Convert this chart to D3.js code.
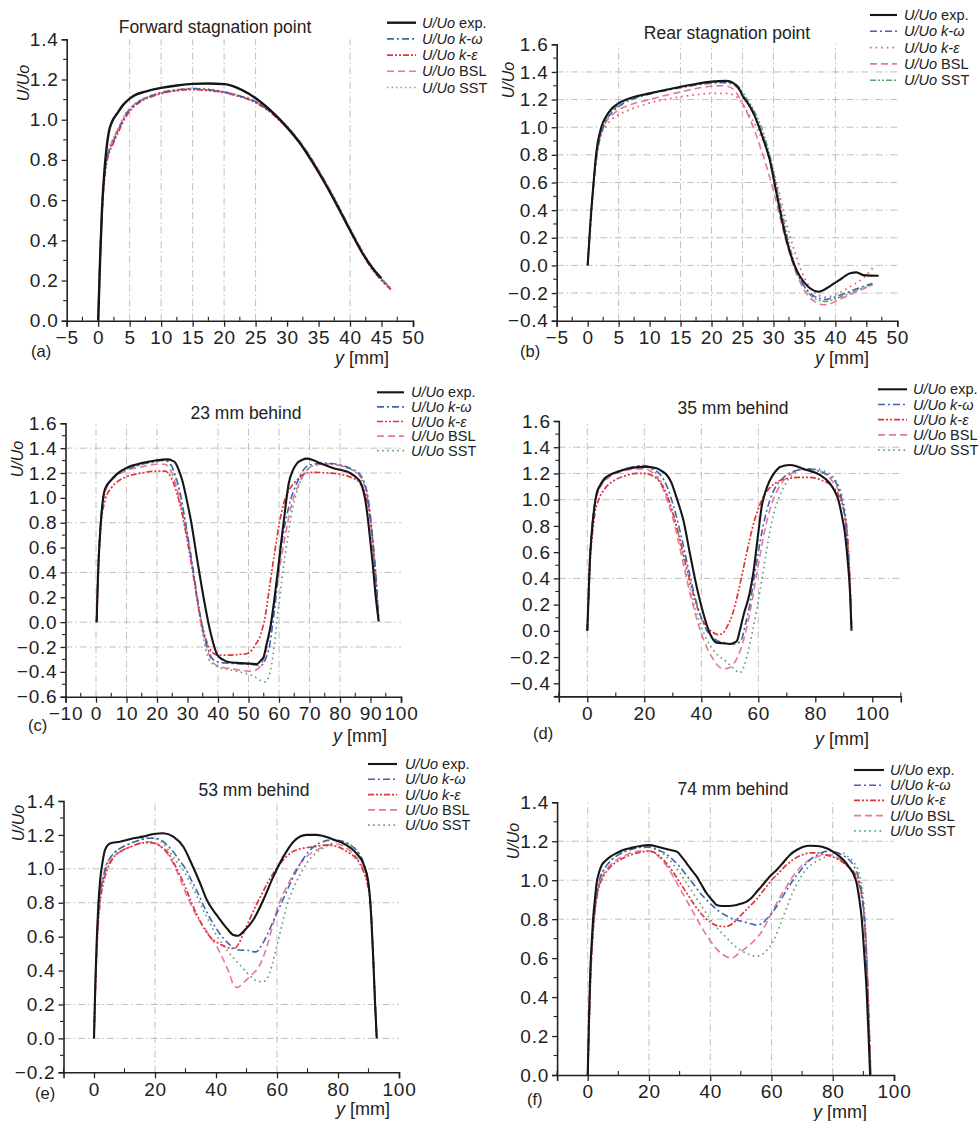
<!DOCTYPE html>
<html><head><meta charset="utf-8">
<script src="https://cdn.jsdelivr.net/npm/d3@7"></script>
<style>
body{margin:0;background:#fff}
svg{display:block}
text{font-family:"Liberation Sans",Arial,Helvetica,sans-serif;fill:#222}
</style>
</head><body>
<svg id="chart" width="979" height="1121"></svg>
<script>
// ---------------- DATA ----------------
const seriesLabels = ["exp.", "k-ω", "k-ε", "BSL", "SST"];

// (a) Forward stagnation point
const aExp = [[0,0],[0.3,0.3],[0.6,0.55],[1,0.75],[1.3,0.85],[1.7,0.94],[2.2,0.99],[3,1.03],[4,1.075],[5,1.105],[6,1.125],[7.5,1.14],[10,1.158],[12.5,1.17],[15,1.178],[17.5,1.18],[20,1.177],[22,1.16],[24,1.128],[26,1.083],[28,1.028],[30,0.962],[32,0.885],[34,0.79],[36,0.685],[38,0.57],[40,0.45],[42,0.335],[43.5,0.265],[45,0.21]];
const aKw = [[0,0],[0.4,0.4],[0.8,0.65],[1.2,0.77],[1.7,0.84],[2.5,0.9],[3.5,0.97],[4.5,1.03],[5.5,1.065],[7,1.1],[8.5,1.12],[10,1.135],[12.5,1.148],[15,1.155],[17.5,1.15],[20,1.138],[22.5,1.118],[25,1.09],[27,1.048],[29,0.995],[31,0.928],[33,0.845],[35,0.745],[37,0.635],[39,0.515],[41,0.395],[43,0.285],[45,0.205],[46.5,0.16]];
const aKe = [[0,0],[0.4,0.38],[0.8,0.63],[1.2,0.76],[1.7,0.83],[2.5,0.89],[3.5,0.96],[4.5,1.02],[5.5,1.06],[7,1.095],[8.5,1.115],[10,1.13],[12.5,1.145],[15,1.15],[17.5,1.145],[20,1.135],[22.5,1.115],[25,1.085],[27,1.045],[29,0.99],[31,0.925],[33,0.84],[35,0.74],[37,0.63],[39,0.51],[41,0.39],[43,0.28],[45,0.2],[46.5,0.155]];
const aBsl = [[0,0],[0.4,0.4],[0.8,0.66],[1.2,0.78],[1.7,0.85],[2.5,0.91],[3.5,0.975],[4.5,1.035],[5.5,1.07],[7,1.1],[8.5,1.118],[10,1.132],[12.5,1.146],[15,1.152],[17.5,1.147],[20,1.136],[22.5,1.116],[25,1.088],[27,1.05],[29,0.998],[31,0.93],[33,0.85],[35,0.75],[37,0.64],[39,0.52],[41,0.4],[43,0.29],[45,0.21],[46.5,0.16]];
const aSst = [[0,0],[0.4,0.41],[0.8,0.66],[1.2,0.78],[1.7,0.85],[2.5,0.915],[3.5,0.98],[4.5,1.04],[5.5,1.07],[7,1.105],[8.5,1.122],[10,1.136],[12.5,1.15],[15,1.156],[17.5,1.152],[20,1.14],[22.5,1.12],[25,1.092],[27,1.052],[29,1.0],[31,0.932],[33,0.85],[35,0.752],[37,0.642],[39,0.522],[41,0.402],[43,0.292],[45,0.21],[46.5,0.162]];

// (b) Rear stagnation point
const bExp = [[0,0],[0.5,0.35],[0.9,0.57],[1.4,0.82],[2.2,1.0],[3,1.08],[3.8,1.13],[5,1.175],[6.5,1.205],[8,1.225],[10,1.245],[12.5,1.27],[15,1.293],[17.5,1.313],[20,1.33],[22.4,1.335],[23.5,1.32],[24.3,1.29],[25.1,1.22],[26,1.165],[26.8,1.1],[27.6,1.01],[28.4,0.91],[29.4,0.765],[30.5,0.52],[31.6,0.28],[32.7,0.09],[33.5,-0.01],[34.3,-0.08],[35.1,-0.13],[35.9,-0.165],[37.3,-0.19],[38.6,-0.165],[39.6,-0.135],[40.7,-0.105],[41.6,-0.075],[42.4,-0.057],[43.4,-0.05],[44.5,-0.07],[45.6,-0.074],[47,-0.075]];
const bKw = [[0,0],[0.5,0.33],[1,0.6],[1.5,0.8],[2.3,0.97],[3,1.05],[4,1.11],[5,1.15],[6.5,1.19],[8,1.215],[10,1.24],[12.5,1.265],[15,1.285],[17.5,1.305],[20,1.318],[22,1.322],[23.5,1.31],[24.5,1.27],[25.5,1.2],[26.5,1.12],[27.5,1.02],[28.5,0.9],[29.5,0.74],[30.5,0.53],[31.5,0.32],[32.5,0.13],[33.5,-0.02],[34.5,-0.12],[35.5,-0.18],[36.5,-0.22],[37.5,-0.24],[38.5,-0.245],[39.5,-0.235],[41,-0.21],[42.5,-0.185],[44,-0.16],[45,-0.145],[46,-0.13]];
const bKe = [[0,0],[0.5,0.3],[1,0.6],[1.5,0.8],[2,0.92],[3,1.01],[4,1.06],[5,1.09],[7,1.13],[10,1.175],[12.5,1.2],[15,1.22],[17.5,1.235],[20,1.245],[22.5,1.245],[23.5,1.235],[24.5,1.2],[25.5,1.13],[26.5,1.06],[27.5,0.98],[28.5,0.88],[29.5,0.76],[30.5,0.6],[31.5,0.42],[32.5,0.24],[33.5,0.09],[34.5,-0.04],[35.5,-0.13],[36.5,-0.19],[37.5,-0.22],[38.5,-0.23],[39.5,-0.22],[41,-0.19],[42.5,-0.15],[44,-0.11],[45,-0.07],[46,-0.02]];
const bBsl = [[0,0],[0.5,0.33],[1,0.62],[1.5,0.82],[2.2,0.96],[3,1.04],[4,1.09],[5,1.125],[7,1.165],[10,1.2],[12.5,1.23],[15,1.255],[17.5,1.28],[20,1.297],[22,1.3],[23,1.29],[24,1.25],[25,1.17],[26,1.08],[27,0.97],[28,0.84],[29,0.7],[30,0.54],[31,0.36],[32,0.18],[33,0.03],[34,-0.09],[35,-0.18],[36,-0.24],[37,-0.27],[38,-0.285],[39,-0.28],[40,-0.26],[41.5,-0.23],[43,-0.2],[44.5,-0.17],[46,-0.14]];
const bSst = [[0,0],[0.5,0.34],[1,0.62],[1.5,0.82],[2.3,0.98],[3,1.06],[4,1.12],[5,1.16],[6.5,1.2],[8,1.22],[10,1.245],[12.5,1.27],[15,1.29],[17.5,1.31],[20,1.325],[22,1.33],[23.5,1.32],[24.5,1.285],[25.5,1.22],[26.5,1.15],[27.5,1.06],[28.5,0.94],[29.5,0.78],[30.5,0.57],[31.5,0.36],[32.5,0.16],[33.5,0.0],[34.5,-0.11],[35.5,-0.19],[36.5,-0.235],[37.5,-0.255],[38.5,-0.26],[39.5,-0.25],[41,-0.225],[42.5,-0.2],[44,-0.17],[45,-0.155],[46,-0.14]];

// (c) 23 mm behind
const cExp = [[0.2,0],[0.7,0.4],[1.5,0.77],[2.6,1.04],[3.5,1.1],[4.8,1.14],[7,1.195],[10.3,1.245],[15,1.28],[20,1.303],[23.4,1.31],[25,1.3],[26.1,1.28],[27.2,1.22],[28.3,1.14],[29.7,0.99],[31.1,0.82],[33.2,0.5],[35.4,0.18],[37.6,-0.09],[39.8,-0.265],[41.5,-0.3],[43,-0.318],[47.4,-0.33],[52.8,-0.337],[54,-0.31],[55,-0.278],[56,-0.17],[57.2,-0.036],[58.3,0.15],[59.4,0.366],[60.5,0.6],[61.6,0.82],[63.2,1.117],[64.5,1.22],[65.9,1.278],[67.5,1.305],[69.2,1.316],[71.5,1.3],[73.6,1.278],[77.9,1.238],[83.4,1.198],[85.5,1.16],[86.6,1.13],[87.5,1.07],[88.3,0.983],[89.1,0.84],[89.9,0.661],[90.8,0.45],[91.6,0.232],[92.7,0.004]];
const cKw = [[0.2,0],[0.8,0.5],[1.7,0.85],[3,1.06],[5,1.14],[7,1.19],[10,1.23],[15,1.27],[20,1.295],[22.5,1.305],[24.5,1.27],[26,1.18],[27.5,1.05],[29,0.85],[30.5,0.63],[32,0.4],[33.5,0.15],[35,-0.05],[36.5,-0.2],[38,-0.29],[40,-0.32],[43,-0.33],[47,-0.335],[51,-0.34],[54,-0.35],[55.5,-0.3],[57,-0.18],[58,0.0],[59,0.2],[60,0.45],[61,0.65],[62.5,0.85],[64,1.0],[65.5,1.1],[67,1.18],[68.5,1.24],[71,1.27],[75,1.28],[80,1.265],[84,1.23],[86.5,1.19],[88,1.12],[89,1.03],[90,0.85],[91,0.6],[92,0.3],[92.7,0.03]];
const cKe = [[0.2,0],[0.8,0.45],[1.7,0.8],[3,0.98],[5,1.08],[7,1.13],[10,1.17],[15,1.2],[20,1.215],[22.5,1.215],[24.5,1.17],[26,1.08],[27.5,0.95],[29,0.78],[30.5,0.58],[32,0.36],[33.5,0.13],[35,-0.05],[36.5,-0.17],[38,-0.24],[40,-0.265],[43,-0.265],[47,-0.26],[50,-0.25],[52,-0.19],[54,-0.1],[55.5,0.05],[57,0.3],[58.5,0.55],[60,0.78],[61.5,0.95],[63,1.05],[65,1.12],[67,1.17],[69,1.2],[72,1.205],[76,1.2],[80,1.19],[84,1.16],[86.5,1.12],[88,1.05],[89.5,0.9],[90.5,0.7],[91.5,0.4],[92.5,0.05]];
const cBsl = [[0.2,0],[0.8,0.5],[1.7,0.85],[3,1.05],[5,1.14],[7,1.18],[10,1.22],[15,1.25],[20,1.27],[22.5,1.27],[24.5,1.22],[26,1.12],[27.5,0.98],[29,0.8],[30.5,0.6],[32,0.38],[33.5,0.14],[35,-0.07],[36.5,-0.22],[38,-0.31],[40,-0.355],[43,-0.37],[47,-0.385],[50,-0.395],[52,-0.39],[54,-0.35],[55.5,-0.25],[57,-0.08],[58.5,0.15],[60,0.4],[61.5,0.62],[63,0.82],[64.5,0.98],[66,1.08],[67.5,1.16],[69,1.22],[72,1.265],[76,1.275],[80,1.26],[84,1.225],[86.5,1.18],[88,1.1],[89,1.0],[90,0.82],[91,0.58],[92,0.28],[92.7,0.02]];
const cSst = [[0.2,0],[0.8,0.5],[1.7,0.85],[3,1.05],[5,1.14],[7,1.19],[10,1.23],[15,1.27],[20,1.29],[22.5,1.3],[24.5,1.26],[26,1.17],[27.5,1.03],[29,0.84],[30.5,0.62],[32,0.38],[33.5,0.12],[35,-0.1],[36,-0.22],[37,-0.3],[38,-0.33],[40,-0.36],[43,-0.38],[47,-0.4],[50,-0.42],[52,-0.44],[54,-0.47],[55.5,-0.48],[56.5,-0.45],[57.5,-0.35],[58.5,-0.18],[59.5,0.05],[60.5,0.25],[61.5,0.45],[62.5,0.62],[63.5,0.78],[64.5,0.92],[65.5,1.02],[66.5,1.1],[68,1.18],[70,1.24],[73,1.27],[77,1.27],[81,1.25],[85,1.21],[87,1.15],[88.5,1.05],[89.5,0.92],[90.5,0.7],[91.5,0.42],[92.5,0.05]];

// (d) 35 mm behind
const dExp = [[0,0],[0.5,0.3],[0.9,0.54],[1.5,0.73],[2.1,0.87],[3.3,1.05],[4.5,1.11],[5.6,1.15],[8,1.19],[10.3,1.21],[15,1.24],[20.2,1.25],[24.3,1.24],[26,1.22],[27.8,1.19],[29.5,1.13],[30.8,1.05],[32.3,0.95],[33.7,0.845],[36,0.59],[38.4,0.335],[40.7,0.134],[43,-0.02],[45.4,-0.09],[47.7,-0.095],[50,-0.1],[52.4,-0.08],[53.5,0.0],[54.7,0.11],[57,0.29],[58.3,0.45],[59.4,0.64],[60.3,0.8],[61.2,0.95],[62.5,1.06],[64.1,1.15],[66,1.215],[67.6,1.25],[71.1,1.265],[74,1.25],[77,1.226],[81.6,1.19],[85.1,1.125],[86.7,1.07],[88.1,0.998],[89.3,0.88],[90.4,0.744],[91.3,0.55],[92.2,0.286],[92.7,0.0]];
const dKw = [[0,0],[0.5,0.3],[1,0.58],[1.7,0.8],[2.7,0.98],[4,1.08],[6,1.15],[9,1.2],[13,1.23],[17,1.255],[20,1.26],[23,1.235],[26,1.18],[28,1.1],[30,0.97],[32,0.81],[34,0.62],[36,0.42],[38,0.24],[40,0.1],[42,0.0],[44,-0.05],[46,-0.08],[48,-0.09],[50,-0.1],[52,-0.1],[54,-0.07],[55.5,0.05],[57,0.2],[58.5,0.4],[60,0.6],[61.5,0.78],[63,0.92],[65,1.05],[67.5,1.14],[70,1.19],[73,1.22],[77,1.235],[81,1.22],[85,1.18],[87.5,1.12],[89,1.03],[90.3,0.88],[91.3,0.65],[92.2,0.3],[92.7,0.02]];
const dKe = [[0,0],[0.5,0.28],[1,0.52],[1.7,0.72],[2.7,0.9],[4,1.0],[6,1.08],[9,1.14],[13,1.18],[17,1.2],[20,1.2],[23,1.18],[26,1.12],[28,1.03],[30,0.9],[32,0.74],[34,0.56],[36,0.38],[38,0.22],[40,0.1],[42,0.03],[44,-0.01],[46,-0.03],[47.5,-0.02],[49,0.03],[51,0.13],[53,0.3],[55,0.5],[57,0.7],[58.5,0.83],[60,0.93],[62,1.03],[64,1.09],[67,1.14],[70,1.16],[74,1.17],[78,1.17],[82,1.15],[86,1.1],[88.5,1.02],[90,0.92],[91.2,0.75],[92,0.45],[92.7,0.03]];
const dBsl = [[0,0],[0.5,0.3],[1,0.57],[1.7,0.79],[2.7,0.97],[4,1.07],[6,1.14],[9,1.19],[13,1.22],[17,1.235],[20,1.235],[22,1.22],[24,1.18],[26,1.11],[28,1.0],[30,0.86],[32,0.68],[34,0.48],[36,0.29],[38,0.12],[40,-0.02],[42,-0.13],[44,-0.21],[46,-0.27],[48,-0.29],[50,-0.28],[52,-0.23],[54,-0.13],[56,0.03],[58,0.25],[60,0.5],[62,0.74],[64,0.92],[66,1.04],[68,1.12],[71,1.19],[75,1.23],[79,1.23],[83,1.2],[86,1.14],[88.5,1.05],[90,0.92],[91.2,0.72],[92.1,0.4],[92.7,0.02]];
const dSst = [[0,0],[0.5,0.3],[1,0.57],[1.7,0.79],[2.7,0.97],[4,1.08],[6,1.15],[9,1.2],[13,1.235],[17,1.255],[20,1.255],[22,1.24],[24,1.2],[26,1.13],[28,1.03],[30,0.9],[32,0.73],[34,0.53],[36,0.33],[38,0.16],[40,0.03],[42,-0.07],[44,-0.14],[46,-0.19],[48,-0.22],[50,-0.26],[52,-0.3],[53.5,-0.32],[55,-0.27],[56.5,-0.15],[58,0.0],[59.5,0.17],[61,0.36],[62.5,0.56],[64,0.75],[65.5,0.9],[67,1.0],[69,1.1],[72,1.19],[76,1.235],[80,1.235],[84,1.21],[87,1.15],[89,1.06],[90.5,0.9],[91.5,0.65],[92.3,0.3],[92.8,0.02]];

// (e) 53 mm behind
const eExp = [[0,0],[0.4,0.3],[0.9,0.58],[1.4,0.78],[2,0.93],[2.8,1.04],[3.6,1.11],[5.2,1.15],[8.5,1.16],[12.9,1.18],[16,1.19],[19.5,1.205],[22.7,1.21],[26,1.19],[29.3,1.13],[32,1.03],[34.8,0.915],[37,0.816],[40.2,0.728],[43.5,0.65],[45.7,0.61],[47.3,0.605],[49,0.63],[52.2,0.698],[55.5,0.816],[58.8,0.954],[62.1,1.072],[65.4,1.16],[69.7,1.2],[73,1.2],[77.4,1.18],[81.7,1.15],[86.1,1.09],[88.3,1.03],[90,0.914],[91,0.68],[91.6,0.45],[92.1,0.226],[92.7,0]];
const eKw = [[0,0],[0.5,0.35],[1,0.6],[2,0.85],[3,0.95],[4,1.02],[5.5,1.07],[7,1.1],[9.5,1.13],[12,1.15],[15,1.17],[18,1.18],[20,1.18],[22,1.17],[24,1.14],[26,1.1],[28,1.05],[30,1.0],[32,0.93],[34,0.86],[36,0.78],[38,0.71],[40,0.65],[42,0.6],[44,0.56],[46,0.53],[48,0.52],[50,0.52],[53,0.51],[55,0.55],[57,0.62],[59,0.7],[61,0.78],[63,0.86],[65,0.94],[67,1.01],[69,1.07],[72,1.13],[75,1.16],[78,1.17],[81,1.165],[84,1.14],[86.5,1.1],[88.5,1.03],[89.8,0.93],[90.8,0.75],[91.6,0.45],[92.2,0.2],[92.7,0]];
const eKe = [[0,0],[0.5,0.3],[1,0.55],[2,0.8],[3,0.91],[4,0.98],[5.5,1.04],[7,1.08],[9.5,1.11],[12,1.13],[15,1.15],[18,1.155],[20,1.15],[22,1.13],[24,1.1],[26,1.04],[28,0.97],[30,0.89],[32,0.8],[34,0.72],[36,0.65],[38,0.6],[40,0.57],[42,0.55],[44,0.535],[46,0.53],[47.5,0.56],[49,0.62],[51,0.7],[53,0.78],[55,0.85],[57,0.92],[59,0.98],[61,1.03],[63,1.07],[65,1.1],[68,1.12],[72,1.13],[76,1.14],[80,1.13],[83,1.1],[86,1.06],[88,1.0],[89.5,0.92],[90.7,0.78],[91.5,0.5],[92.2,0.2],[92.7,0]];
const eBsl = [[0,0],[0.5,0.33],[1,0.58],[2,0.83],[3,0.94],[4,1.0],[5.5,1.05],[7,1.08],[9.5,1.11],[12,1.13],[15,1.15],[18,1.16],[20,1.155],[22,1.13],[24,1.09],[26,1.03],[28,0.95],[30,0.86],[32,0.78],[34,0.71],[36,0.66],[38,0.6],[40,0.55],[42,0.48],[44,0.4],[46,0.31],[47,0.3],[48.5,0.32],[50,0.345],[52,0.38],[54,0.42],[55.5,0.48],[57,0.56],[58.5,0.66],[60,0.76],[62,0.85],[64.3,0.93],[66,0.99],[68,1.04],[71,1.09],[74,1.12],[77,1.14],[80,1.145],[83,1.12],[86,1.07],[88,1.01],[89.5,0.93],[90.7,0.78],[91.5,0.5],[92.2,0.2],[92.7,0]];
const eSst = [[0,0],[0.5,0.34],[1,0.59],[2,0.84],[3,0.95],[4,1.02],[5.5,1.07],[7,1.1],[9.5,1.13],[12,1.15],[15,1.17],[18,1.185],[20,1.18],[22,1.16],[24,1.12],[26,1.07],[28,1.02],[30,0.97],[32,0.9],[34,0.83],[36,0.75],[38,0.68],[40,0.61],[42,0.56],[44,0.51],[46,0.47],[48,0.43],[50,0.39],[52,0.355],[54,0.335],[55.5,0.335],[57,0.36],[58.5,0.44],[60,0.55],[61.5,0.66],[63.2,0.78],[65,0.87],[66.5,0.93],[68,0.98],[70,1.04],[72,1.08],[74,1.11],[77,1.14],[80,1.16],[83,1.15],[86,1.11],[88,1.04],[89.5,0.95],[90.7,0.8],[91.5,0.52],[92.2,0.2],[92.7,0]];

// (f) 74 mm behind
const fExp = [[0,0],[0.4,0.28],[0.8,0.52],[1.3,0.68],[1.8,0.81],[2.4,0.91],[2.9,0.984],[3.7,1.04],[4.6,1.078],[5.8,1.1],[7.3,1.12],[9.5,1.14],[11.6,1.155],[14,1.165],[17.1,1.176],[20.3,1.18],[22.5,1.173],[24.7,1.164],[27,1.155],[29.1,1.147],[30.7,1.12],[32.3,1.087],[34,1.05],[35.6,1.018],[37.2,0.975],[38.8,0.933],[40.5,0.9],[42.1,0.873],[43.8,0.868],[45.4,0.868],[47,0.869],[48.6,0.873],[50.2,0.88],[51.9,0.89],[53.5,0.91],[55.2,0.941],[56.8,0.97],[58.4,1.0],[60,1.028],[61.7,1.053],[63.8,1.09],[66,1.13],[68.2,1.155],[70.4,1.172],[72.6,1.177],[74.8,1.176],[76.5,1.172],[78,1.164],[80.2,1.145],[82.4,1.12],[84,1.095],[85.6,1.061],[86.8,1.03],[87.8,0.984],[88.7,0.9],[89.4,0.813],[90.3,0.62],[91.1,0.42],[91.7,0.2],[92.2,0]];
const fKw = [[0,0],[0.5,0.3],[1,0.55],[1.6,0.72],[2.3,0.85],[3.2,0.95],[4.2,1.02],[5.5,1.06],[7.5,1.1],[10,1.13],[12.5,1.15],[15,1.162],[17.5,1.17],[20,1.17],[22.5,1.16],[25,1.14],[27.5,1.11],[30,1.07],[32.5,1.02],[35,0.97],[37.5,0.92],[40,0.88],[42.5,0.845],[45,0.82],[47.5,0.8],[50,0.79],[52.5,0.78],[55,0.77],[57,0.78],[59,0.81],[61,0.85],[63,0.9],[65,0.95],[67,1.0],[69,1.04],[71,1.08],[73,1.11],[75,1.13],[77,1.145],[79,1.15],[81,1.145],[83,1.13],[85,1.11],[87,1.07],[88.5,1.01],[89.5,0.93],[90.4,0.78],[91.2,0.52],[91.8,0.25],[92.3,0]];
const fKe = [[0,0],[0.5,0.28],[1,0.52],[1.6,0.7],[2.3,0.83],[3.2,0.93],[4.2,0.99],[5.5,1.03],[7.5,1.07],[10,1.1],[12.5,1.12],[15,1.135],[17.5,1.145],[20,1.15],[22.5,1.135],[25,1.1],[27.5,1.05],[30,0.99],[32.5,0.93],[35,0.87],[37.5,0.82],[40,0.785],[42.5,0.765],[45,0.762],[47.5,0.78],[50,0.82],[52.5,0.86],[55,0.9],[57.5,0.95],[60,1.0],[62.5,1.04],[65,1.08],[67.5,1.11],[70,1.13],[72.5,1.14],[75,1.14],[77.5,1.13],[80,1.12],[82.5,1.1],[85,1.07],[87,1.04],[88.5,0.99],[89.5,0.92],[90.4,0.8],[91.2,0.55],[91.8,0.28],[92.4,0]];
const fBsl = [[0,0],[0.5,0.3],[1,0.54],[1.6,0.71],[2.3,0.84],[3.2,0.94],[4.2,1.0],[5.5,1.04],[7.5,1.08],[10,1.11],[12.5,1.13],[15,1.145],[17.5,1.15],[20,1.15],[22.5,1.13],[25,1.09],[27.5,1.03],[30,0.96],[32.5,0.89],[35,0.82],[37.5,0.75],[40,0.69],[42.5,0.64],[45,0.61],[47,0.6],[49,0.62],[51,0.645],[53,0.67],[55,0.7],[57,0.74],[59,0.8],[61,0.86],[63,0.92],[65,0.97],[67,1.02],[69,1.06],[71,1.09],[73,1.11],[75,1.12],[77,1.13],[79,1.13],[81,1.12],[83,1.1],[85,1.07],[87,1.03],[88.5,0.98],[89.5,0.91],[90.4,0.78],[91.2,0.55],[91.8,0.3],[92.4,0]];
const fSst = [[0,0],[0.5,0.3],[1,0.55],[1.6,0.72],[2.3,0.85],[3.2,0.95],[4.2,1.02],[5.5,1.06],[7.5,1.1],[10,1.13],[12.5,1.15],[15,1.162],[17.5,1.168],[20,1.168],[22.5,1.155],[25,1.13],[27.5,1.09],[30,1.04],[32.5,0.98],[35,0.92],[37.5,0.86],[40,0.8],[42.5,0.75],[45,0.71],[47.5,0.67],[50,0.64],[52.5,0.62],[55,0.61],[57,0.62],[59,0.65],[61,0.7],[63,0.78],[65,0.86],[67,0.94],[69,1.0],[71,1.05],[73,1.08],[75,1.1],[77,1.115],[79,1.13],[81,1.14],[83,1.14],[85,1.12],[87,1.09],[88.5,1.04],[89.5,0.97],[90.4,0.83],[91.2,0.58],[91.8,0.3],[92.4,0]];

// tick labels
const xTicksAB = [-5,0,5,10,15,20,25,30,35,40,45,50];
const xTicksC = [-10,0,10,20,30,40,50,60,70,80,90,100];
const xTicksDEF = [0,20,40,60,80,100];
const yTicksA = [0,0.2,0.4,0.6,0.8,1.0,1.2,1.4];
const yTicksB = [-0.4,-0.2,0,0.2,0.4,0.6,0.8,1.0,1.2,1.4,1.6];
const yTicksC = [-0.6,-0.4,-0.2,0,0.2,0.4,0.6,0.8,1.0,1.2,1.4,1.6];
const yTicksD = [-0.4,-0.2,0,0.2,0.4,0.6,0.8,1.0,1.2,1.4,1.6];
const yTicksE = [-0.2,0,0.2,0.4,0.6,0.8,1.0,1.2,1.4];
const yTicksF = [0,0.2,0.4,0.6,0.8,1.0,1.2,1.4];

// ---------------- STYLES ----------------
const C_EXP = "#161616", C_KW = "#3f65b0", C_KE = "#e2343c", C_BSL = "#e8789a", C_SST_G = "#5fa272", C_SST_A = "#9a9a9a";
const stylesA = [
  {c:C_EXP, w:2.4, d:null},
  {c:C_KW, w:1.6, d:"7,3,2,3"},
  {c:C_KE, w:1.8, d:"6,2,2,2,2,2"},
  {c:C_BSL, w:1.6, d:"7,4"},
  {c:C_SST_A, w:1.6, d:"1.5,3"}
];
const stylesB = [
  {c:C_EXP, w:2.1, d:null},
  {c:C_KW, w:1.6, d:"7,3,2,3"},
  {c:"#ec5a78", w:1.8, d:"1.6,4"},
  {c:C_BSL, w:1.6, d:"7,4"},
  {c:C_SST_G, w:1.6, d:"6,2,2,2,2,2"}
];
const stylesC = [
  {c:C_EXP, w:2.1, d:null},
  {c:C_KW, w:1.6, d:"7,3,2,3"},
  {c:C_KE, w:1.7, d:"6,2,2,2,2,2"},
  {c:C_BSL, w:1.6, d:"7,4"},
  {c:C_SST_G, w:1.7, d:"1.6,3.5"}
];

// ---------------- LAYOUT ----------------
const panels = [
  {letter:"(a)", title:"Forward stagnation point", series:[aExp,aKw,aKe,aBsl,aSst], styles:stylesA,
   xd:[-5,50], yd:[0,1.4], px:[66.7,413], py:[320.7,39.3],
   xt:xTicksAB, yt:yTicksA, xMinorStep:2.5, yMinorStep:0.1,
   vgrid:[5,10,15,20,25,40], hgrid:[],
   titlePos:[215,33], legend:{x0:387,x1:416,tx:422,y:22.7,dy:16.2},
   yLabel:[23,83], xLabel:[335,364], letterPos:[31,357]},
  {letter:"(b)", title:"Rear stagnation point", series:[bExp,bKw,bKe,bBsl,bSst], styles:stylesB,
   xd:[-5,50], yd:[-0.4,1.6], px:[556.7,897.3], py:[320.7,44.3],
   xt:xTicksAB, yt:yTicksB, xMinorStep:2.5, yMinorStep:0.1,
   vgrid:[5,15,20,25,30,40], hgrid:[1.4,1.2,1.0,0.8,0.6,0.4,0.2,0,-0.2],
   titlePos:[727,39], legend:{x0:870,x1:897,tx:904,y:15,dy:16.3},
   yLabel:[508,80], xLabel:[815,364], letterPos:[520,357]},
  {letter:"(c)", title:"23 mm behind", series:[cExp,cKw,cKe,cBsl,cSst], styles:stylesC,
   xd:[-10,100], yd:[-0.6,1.6], px:[65.5,401], py:[696.7,423.3],
   xt:xTicksC, yt:yTicksC, xMinorStep:5, yMinorStep:0.1,
   vgrid:[0,10,20,40,50,60,70,80], hgrid:[1.4,1.2,0.8,0.4,0,-0.2],
   titlePos:[246,419], legend:{x0:377,x1:404,tx:411,y:392.3,dy:14.6},
   yLabel:[17,459], xLabel:[333,742], letterPos:[28,731]},
  {letter:"(d)", title:"35 mm behind", series:[dExp,dKw,dKe,dBsl,dSst], styles:stylesC,
   xd:[-10,110], yd:[-0.5,1.6], px:[558.8,900.8], py:[696.4,421],
   xt:xTicksDEF, yt:yTicksD, xMinorStep:10, yMinorStep:0.1,
   vgrid:[0,20,40,60], hgrid:[1.4,1.2,1.0,0.4],
   titlePos:[733,414], legend:{x0:878,x1:907,tx:913,y:389.3,dy:15.2},
   yLabel:null, xLabel:[815,745], letterPos:[533,739]},
  {letter:"(e)", title:"53 mm behind", series:[eExp,eKw,eKe,eBsl,eSst], styles:stylesC,
   xd:[-10,100], yd:[-0.2,1.4], px:[63.5,399], py:[1072.3,801],
   xt:xTicksDEF, yt:yTicksE, xMinorStep:10, yMinorStep:0.1,
   vgrid:[20,60], hgrid:[1.0,0.8,0.2,0],
   titlePos:[254,796], legend:{x0:368,x1:397,tx:405,y:764,dy:15.3},
   yLabel:[18,823], xLabel:[336,1115], letterPos:[35,1099]},
  {letter:"(f)", title:"74 mm behind", series:[fExp,fKw,fKe,fBsl,fSst], styles:stylesC,
   xd:[-10,100], yd:[0,1.4], px:[557.1,894], py:[1075,802.3],
   xt:xTicksDEF, yt:yTicksF, xMinorStep:10, yMinorStep:0.1,
   vgrid:[0,20,40,60,80], hgrid:[1.2,1.0,0.8],
   titlePos:[733,795], legend:{x0:854,x1:884,tx:890,y:770,dy:15.2},
   yLabel:[513,841], xLabel:[813,1118], letterPos:[527,1105]}
];

// ---------------- DRAW ----------------
const svg = d3.select("#chart");
const fmt = v => {
  const s = d3.format(".1f")(Math.abs(v));
  return (v < -1e-9 ? "\u2212" : "") + s;
};
const fmtX = v => (v < 0 ? "\u2212" : "") + Math.abs(v);

panels.forEach(p => {
  const g = svg.append("g");
  const x = d3.scaleLinear().domain(p.xd).range(p.px);
  const y = d3.scaleLinear().domain(p.yd).range(p.py);

  // grid
  const grid = g.append("g").attr("stroke", "#b8b8b8").attr("stroke-width", 0.9)
    .attr("stroke-dasharray", "7,3,1.5,3");
  grid.selectAll("line.v").data(p.vgrid).join("line")
    .attr("x1", d => x(d)).attr("x2", d => x(d))
    .attr("y1", p.py[0]).attr("y2", p.py[1]);
  grid.selectAll("line.h").data(p.hgrid).join("line")
    .attr("class","h")
    .attr("y1", d => y(d)).attr("y2", d => y(d))
    .attr("x1", p.px[0]).attr("x2", p.px[1]);

  // minor ticks
  const xMinor = d3.range(p.xd[0], p.xd[1] + 1e-6, p.xMinorStep)
    .filter(v => !p.xt.some(t => Math.abs(t - v) < 1e-6));
  const yMinor = d3.range(p.yd[0], p.yd[1] + 1e-6, p.yMinorStep)
    .filter(v => !p.yt.some(t => Math.abs(t - v) < 1e-6));

  // axes
  const xAxis = d3.axisBottom(x).tickValues(p.xt).tickFormat(fmtX).tickSize(6).tickPadding(4);
  const yAxis = d3.axisLeft(y).tickValues(p.yt).tickFormat(fmt).tickSize(5).tickPadding(3);
  const gx = g.append("g").attr("transform", `translate(0,${p.py[0]})`).call(xAxis);
  const gy = g.append("g").attr("transform", `translate(${p.px[0]},0)`).call(yAxis);
  [gx, gy].forEach(a => {
    a.select(".domain").attr("stroke", "#222").attr("stroke-width", 1.6);
    a.selectAll(".tick line").attr("stroke", "#222").attr("stroke-width", 1.3);
    a.selectAll(".tick text").attr("fill", "#222").style("font-size", "19px")
      .style("letter-spacing", "0.8px")
      .style("font-family", '"Liberation Sans", Arial, sans-serif');
  });
  const axisMinor = g.append("g").attr("stroke", "#222").attr("stroke-width", 1.1);
  axisMinor.selectAll("line.xm").data(xMinor).join("line").attr("class","xm")
    .attr("x1", d => x(d)).attr("x2", d => x(d))
    .attr("y1", p.py[0]).attr("y2", p.py[0] - 4);
  axisMinor.selectAll("line.ym").data(yMinor).join("line").attr("class","ym")
    .attr("y1", d => y(d)).attr("y2", d => y(d))
    .attr("x1", p.px[0]).attr("x2", p.px[0] - 3.5);

  // series (models first, experiment on top)
  const line = d3.line().x(d => x(d[0])).y(d => y(d[1])).curve(d3.curveMonotoneX);
  [4,3,2,1,0].forEach(i => {
    const st = p.styles[i];
    g.append("path").datum(p.series[i])
      .attr("fill", "none").attr("stroke", st.c).attr("stroke-width", st.w)
      .attr("stroke-dasharray", st.d).attr("stroke-linejoin", "round")
      .attr("d", line);
  });

  // title
  g.append("text").attr("x", p.titlePos[0]).attr("y", p.titlePos[1])
    .attr("text-anchor", "middle").style("font-size", "17.5px").text(p.title);

  // legend
  const lg = g.append("g");
  seriesLabels.forEach((lab, i) => {
    const st = p.styles[i];
    const yy = p.legend.y + i * p.legend.dy;
    lg.append("line").attr("x1", p.legend.x0).attr("x2", p.legend.x1)
      .attr("y1", yy).attr("y2", yy).attr("stroke", st.c).attr("stroke-width", st.w)
      .attr("stroke-dasharray", st.d);
    const t = lg.append("text").attr("x", p.legend.tx).attr("y", yy + 5).style("font-size", "14.5px");
    t.append("tspan").style("font-style", "italic").text("U/Uo");
    const italicSuffix = (lab === "k-ω" || lab === "k-ε");
    t.append("tspan").text(" ");
    t.append("tspan").style("font-style", italicSuffix ? "italic" : "normal").text(lab);
  });

  // y label
  if (p.yLabel) {
    g.append("text").attr("transform", `translate(${p.yLabel[0]},${p.yLabel[1]}) rotate(-90)`)
      .attr("text-anchor", "middle").attr("dominant-baseline", "central")
      .style("font-size", "16px").style("font-style", "italic").text("U/Uo");
  }
  // x label
  const xl = g.append("text").attr("x", p.xLabel[0]).attr("y", p.xLabel[1]).style("font-size", "18px");
  xl.append("tspan").style("font-style", "italic").text("y");
  xl.append("tspan").text(" [mm]");
  // panel letter
  g.append("text").attr("x", p.letterPos[0]).attr("y", p.letterPos[1]).style("font-size", "16.5px").text(p.letter);
});
</script>
</body></html>
